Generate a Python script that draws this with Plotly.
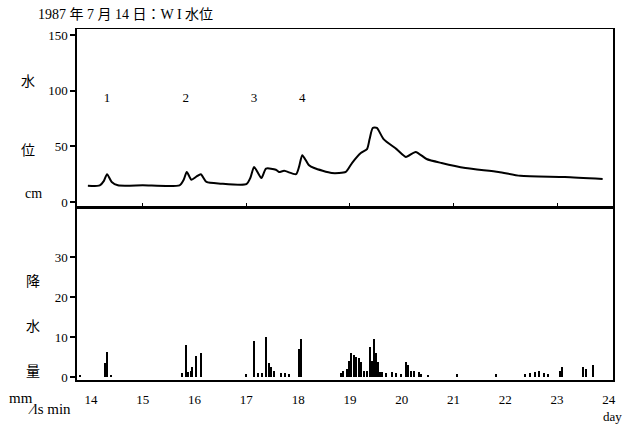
import plotly.graph_objects as go

# Water level (cm) vs day
level_day = [13.94, 14.17, 14.25, 14.31, 14.40, 14.52, 15.0, 15.71, 15.79, 15.85, 15.94, 16.04,
             16.12, 16.23, 16.5, 17.0, 17.08, 17.15, 17.29, 17.38, 17.57, 17.63, 17.73, 17.96,
             18.02, 18.08, 18.21, 18.31, 18.65, 18.92, 19.04, 19.21, 19.33, 19.38, 19.44, 19.52,
             19.65, 19.90, 20.08, 20.27, 20.48, 20.77, 21.23, 21.87, 22.29, 23.15, 23.88]
level_cm = [14.5, 15, 19, 25, 18, 15, 15, 15, 20, 27, 20, 23,
            25, 18, 16.5, 16, 22, 31.5, 21.5, 30, 29, 27, 28, 25,
            32, 42, 33, 30.5, 26, 27, 35, 44, 47.5, 56.5, 66.5, 66.5,
            56.5, 47.5, 40.5, 45, 38.6, 35, 30.5, 27, 23.5, 22.5, 20.7]

# Rainfall (mm) vs day
rain_day = [13.79, 14.27, 14.31, 14.40, 15.77, 15.83, 15.88, 15.93, 15.96, 16.04, 16.12, 17.00,
            17.15, 17.22, 17.31, 17.38, 17.45, 17.48, 17.54, 17.67, 17.75, 17.83, 18.02, 18.06,
            18.83, 18.88, 18.94, 18.98, 19.02, 19.08, 19.13, 19.17, 19.21, 19.27, 19.33, 19.40,
            19.43, 19.46, 19.50, 19.54, 19.58, 19.62, 19.71, 19.81, 19.90, 20.0, 20.08, 20.13,
            20.19, 20.25, 20.33, 20.38, 20.52, 21.08, 21.83, 22.38, 22.48, 22.58, 22.65, 22.75,
            22.83, 23.06, 23.10, 23.50, 23.56, 23.69]
rain_mm = [0.6, 3.5, 6.3, 0.6, 1.0, 8.0, 1.2, 1.5, 2.5, 5.2, 6.0, 0.8,
           9.0, 1.0, 1.0, 10.0, 3.5, 2.5, 1.5, 1.0, 1.0, 0.8, 7.0, 9.5,
           1.0, 1.5, 2.0, 4.0, 6.0, 5.5, 5.0, 4.7, 3.8, 1.5, 1.5, 7.5,
           4.0, 9.5, 6.0, 3.8, 1.2, 1.2, 1.0, 1.2, 1.0, 0.8, 3.8, 3.0,
           1.5, 1.5, 1.2, 0.8, 0.3, 0.8, 0.8, 0.8, 1.0, 1.2, 1.5, 1.0,
           0.8, 1.5, 2.5, 2.5, 2.0, 3.0]

day_ticks = [14, 15, 16, 17, 18, 19, 20, 21, 22, 23, 24]
odd_ticks = [15, 17, 19, 21, 23]
level_ticks = [0, 50, 100, 150]
rain_ticks = [0, 10, 20, 30]
event_labels = ["1", "2", "3", "4"]
event_day = [14.31, 15.83, 17.15, 18.08]
event_y = [93, 93, 93, 93]

FONT = "Liberation Serif, Noto Sans CJK JP, serif"
CJK = "Noto Sans CJK JP, sans-serif"
XR = [13.73, 24.08]

fig = go.Figure()
fig.add_trace(go.Scatter(x=level_day, y=level_cm, mode="lines", line=dict(color="black", width=2, shape="spline", smoothing=0.6),
                         xaxis="x", yaxis="y", showlegend=False, hoverinfo="skip"))
fig.add_trace(go.Bar(x=rain_day, y=rain_mm, width=0.028, marker=dict(color="black", line=dict(width=0)),
                     xaxis="x2", yaxis="y2", showlegend=False))
fig.add_trace(go.Scatter(x=event_day, y=event_y, mode="text", text=event_labels,
                         textfont=dict(family=FONT, size=13, color="black"),
                         xaxis="x", yaxis="y", showlegend=False, hoverinfo="skip"))

axline = dict(showline=True, linecolor="black", linewidth=1.5, showgrid=False, zeroline=False, mirror=True)

fig.update_layout(
    width=627, height=426,
    margin=dict(l=77, r=14, t=29, b=46),
    paper_bgcolor="white", plot_bgcolor="white",
    font=dict(family=FONT, size=13, color="black"),
    bargap=0,
    xaxis=dict(domain=[0, 1], anchor="y", range=XR, tickvals=odd_ticks, ticks="inside", ticklen=5,
               tickcolor="black", showticklabels=False, showline=True, linecolor="black", linewidth=1,
               showgrid=False, zeroline=False, mirror=True),
    yaxis=dict(domain=[0.49, 1], anchor="x", range=[-5.4, 155.4], tickvals=level_ticks, ticks="outside",
               ticklen=5, tickcolor="black", tickwidth=1.5, **axline),
    xaxis2=dict(domain=[0, 1], anchor="y2", range=XR, tickvals=day_ticks, ticks="", ticklabelstandoff=7, **axline),
    xaxis3=dict(domain=[0, 1], anchor="y2", overlaying="x2", range=XR, tickvals=odd_ticks, ticks="outside",
                ticklen=6, tickwidth=1.5, tickcolor="black", showticklabels=False, showline=False,
                showgrid=False, zeroline=False),
    yaxis2=dict(domain=[0, 0.49], anchor="x2", range=[-0.75, 42.25], tickvals=rain_ticks, ticks="outside",
                ticklen=5, tickcolor="black", tickwidth=1.5, **axline),
)

def pax(px):
    return (px - 77) / 536

def pay(py):
    return (380 - py) / 351

ann = [
    dict(text="1987 年 7 月 14 日：W I 水位", x=pax(36), y=pay(15), xanchor="left", size=14),
    dict(text="水", x=pax(28), y=pay(80), xanchor="center", size=14, fam=CJK),
    dict(text="位", x=pax(28), y=pay(149), xanchor="center", size=14, fam=CJK),
    dict(text="cm", x=pax(33), y=pay(193), xanchor="center", size=14),
    dict(text="降", x=pax(33), y=pay(280), xanchor="center", size=14, fam=CJK),
    dict(text="水", x=pax(33), y=pay(325), xanchor="center", size=14, fam=CJK),
    dict(text="量", x=pax(33), y=pay(370), xanchor="center", size=14, fam=CJK),
    dict(text="mm", x=pax(7), y=pay(398), xanchor="left", size=15),
    dict(text="∕ls min", x=pax(26), y=pay(409), xanchor="left", size=15),
    dict(text="day", x=pax(624), y=pay(416), xanchor="right", size=13),
]
for a in ann:
    fig.add_annotation(text=a["text"], x=a["x"], y=a["y"], xref="paper", yref="paper", xanchor=a["xanchor"],
                       yanchor="middle", showarrow=False,
                       font=dict(family=a.get("fam", FONT), size=a["size"], color="black"))

fig.write_html("out.html", config={"displayModeBar": False},
               post_script="document.body.style.margin='0px';document.body.style.overflow='hidden';")
